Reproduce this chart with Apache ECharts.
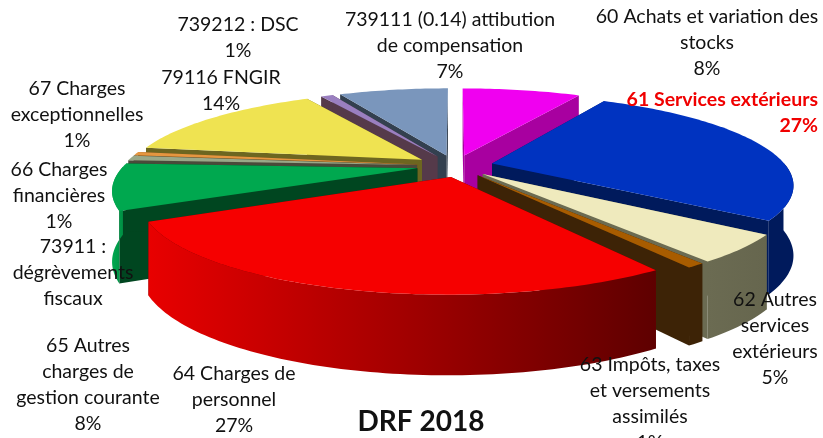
<!DOCTYPE html>
<html>
<head>
<meta charset="utf-8">
<style>
html, body { margin: 0; padding: 0; background: #fff; overflow: hidden; }
#chart { width: 823px; height: 438px; }
</style>
<script src="https://cdn.jsdelivr.net/npm/echarts@6/dist/echarts.min.js"></script>
</head>
<body>
<div id="chart"></div>
<script>
// libellés et parts, sens horaire depuis midi
const categories = ['60 Achats et variation des\nstocks', '61 Services extérieurs', '62 Autres\nservices\nextérieurs', '63 Impôts, taxes\net versements\nassimilés', '64 Charges de\npersonnel', '65 Autres\ncharges de\ngestion courante', '73911 :\ndégrèvements\nfiscaux', '66 Charges\nfinancières', '67 Charges\nexceptionnelles', '79116 FNGIR', '739212 : DSC', '739111 (0.14) attibution\nde compensation'];
const values = [8, 27, 4.8, 0.8, 27.1, 8.2, 0, 0.9, 0.6, 14.4, 0.8, 7.4];

// couleurs : dessus, paroi (gauche, droite), coupe
const topColors = ['#f000f0', '#0033c0', '#efeabd', '#a85c00', '#f60000', '#00a84f', '#888888', '#9aa888', '#e59640', '#efe351', '#9a7fc0', '#7a96bc'];
const wallColors = [['#a800a0', '#a800a0'], ['#001a5c', '#001a5c'], ['#6b6b52', '#66664e'], ['#3d2306', '#3d2306'], ['#e80000', '#5e0000'], ['#00a84f', '#009044'], ['#555555', '#555555'], ['#6d7560', '#6d7560'], ['#a06a2c', '#a06a2c'], ['#8a8520', '#8a8520'], ['#553a4a', '#553a4a'], ['#33404f', '#33404f']];
const faceColors = ['#a800a0', '#001a5c', '#6b6b52', '#3d2306', '#600000', '#004620', '#555555', '#4a4a3a', '#7a5520', '#6d6620', '#553a4a', '#33404f'];

// position des étiquettes [x centre, y première ligne]
const labelPos = [[707, 17], [818, 100], [775, 300], [650, 365], [234, 374], [88, 346], [73, 247], [59, 170], [77, 89], [221, 78], [238, 25], [450, 20]];
// petit décalage horizontal de chaque part, en pixels
const nudge = [0, 0, 0, 0, 6, 0, 0, 0, 0, -2, 0, 0];

// vue perspective du camembert
const cx = 455, cy = 166, rx0 = 294, ry0 = 86, k = 0.22, depth = 68, explode = 0.13;

function proj(X, Y, z) {
    let w = 1 / (1 - k * Y);
    return [cx + rx0 * X * w, cy + ry0 * Y * w + z * Math.pow(w, 0.6)];
}

let total = values.reduce((a, b) => a + b, 0);
let slices = [];
let acc = 0;
values.forEach(function (v, i) {
    let a0 = acc / total * Math.PI * 2;
    acc += v;
    let a1 = acc / total * Math.PI * 2;
    slices.push({ i: i, a0: a0, a1: a1, mid: (a0 + a1) / 2 });
});
// du fond vers l'avant
let order = slices.filter(s => s.a1 > s.a0).sort((a, b) => -Math.cos(a.mid) + Math.cos(b.mid));

function renderSlice(params, api) {
    let s = slices[api.value(0)];
    let ox = explode * Math.sin(s.mid), oy = -explode * Math.cos(s.mid);
    let edge = a => [ox + Math.sin(a), oy - Math.cos(a)];
    let at = function (p, z) {
        let q = proj(p[0], p[1], z);
        return [q[0] + nudge[s.i], q[1]];
    };
    let apex = [ox, oy];
    let rim = [];
    let n = Math.max(2, Math.ceil((s.a1 - s.a0) / 0.02));
    for (let j = 0; j <= n; j++) {
        rim.push(s.a0 + (s.a1 - s.a0) * j / n);
    }
    let children = [];
    // coupes
    [s.a0, s.a1].forEach(function (a) {
        let e = edge(a);
        children.push({
            type: 'polygon',
            shape: { points: [at(apex, 0), at(e, 0), at(e, depth), at(apex, depth)] },
            style: { fill: faceColors[s.i] }
        });
    });
    // paroi extérieure, partie visible seulement
    let front = rim.filter(a => Math.cos(a) < 0.03);
    if (front.length > 1) {
        let up = front.map(a => at(edge(a), 0));
        let down = front.map(a => at(edge(a), depth)).reverse();
        let c = wallColors[s.i];
        children.push({
            type: 'polygon',
            shape: { points: up.concat(down) },
            style: { fill: new echarts.graphic.LinearGradient(0, 0, 1, 0, [{ offset: 0, color: c[0] }, { offset: 1, color: c[1] }]) }
        });
    }
    // dessus
    let topPts = [at(apex, 0)].concat(rim.map(a => at(edge(a), 0)));
    children.push({ type: 'polygon', shape: { points: topPts }, style: { fill: topColors[s.i] } });
    return { type: 'group', children: children };
}

// étiquettes
let labels = categories.map(function (name, i) {
    let text = values[i] > 0 ? name + '\n' + Math.round(values[i]) + '%' : name;
    let red = i === 1;
    return {
        type: 'text',
        z: 100,
        x: labelPos[i][0],
        y: labelPos[i][1] - 13,
        style: {
            text: text,
            fill: red ? '#f00000' : '#111111',
            font: (red ? 'bold ' : '') + '19.5px Lato',
            lineHeight: 26,
            align: red ? 'right' : 'center',
            verticalAlign: 'top'
        }
    };
});
labels.push({
    type: 'text',
    z: 100,
    x: 421,
    y: 408,
    style: { text: 'DRF 2018', fill: '#111111', font: 'bold 28px Lato', align: 'center', verticalAlign: 'top' }
});

let myChart = echarts.init(document.getElementById('chart'));
myChart.setOption({
    animation: false,
    backgroundColor: '#ffffff',
    graphic: labels,
    series: [{
        type: 'custom',
        coordinateSystem: 'none',
        silent: true,
        data: order.map(s => [s.i]),
        renderItem: renderSlice
    }]
});
</script>
</body>
</html>
